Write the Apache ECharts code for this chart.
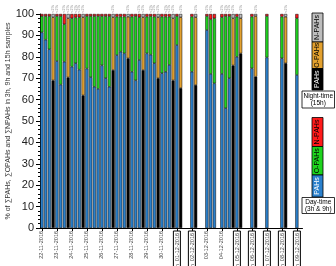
<!DOCTYPE html>
<html>
<head>
<meta charset="utf-8">
<script src="https://cdn.jsdelivr.net/npm/echarts@6/dist/echarts.min.js"></script>
<style>
html,body{margin:0;padding:0;background:#fff;}
#main{width:336px;height:266px;}
</style>
</head>
<body>
<div id="main"></div>
<script>
// sampling days, 4 bar slots per day
var days = ['22-11-2016','23-11-2016','24-11-2016','25-11-2016','26-11-2016','27-11-2016',
	'28-11-2016','29-11-2016','30-11-2016','01-12-2016','02-12-2016','03-12-2016',
	'04-12-2016','05-12-2016','06-12-2016','07-12-2016','08-12-2016','09-12-2016'];
// days with only the 9h sample (boxed label)
var only9h = ['01-12-2016','02-12-2016','05-12-2016','06-12-2016','07-12-2016','08-12-2016','09-12-2016'];
var slotsPerDay = 4;
var yTicks = [0,10,20,30,40,50,60,70,80,90,100];

// day-time (3h & 9h) samples, % per slot
var dayPAH = [
	91.4,88.0,83.5,null, 78.0,67.0,77.7,null, 75.4,77.0,74.0,null, 74.5,70.5,66.0,65.0,
	76.0,70.0,66.0,null, 80.8,82.4,81.6,null, 73.0,69.0,78.5,null, 81.6,81.0,77.0,null,
	72.3,73.0,76.2,null, 85.5,null,null,null, 73.0,null,null,null, 92.5,72.0,67.6,null,
	72.0,56.0,70.0,null, 80.0,null,null,null, 74.6,null,null,null, 79.7,null,null,null,
	79.3,null,null,null, 71.5,null];
var dayOPAH = [
	7.6,11.0,15.5,null, 21.0,32.0,17.5,null, 22.6,21.4,24.5,null, 24.5,28.5,33.0,34.0,
	23.0,29.0,33.0,null, 18.0,16.4,17.2,null, 25.8,30.0,20.0,null, 17.2,18.0,21.8,null,
	26.5,25.8,22.6,null, 13.5,null,null,null, 25.8,null,null,null, 6.5,25.5,30.4,null,
	26.5,43.0,29.0,null, 18.8,null,null,null, 24.2,null,null,null, 19.3,null,null,null,
	19.5,null,null,null, 26.5,null];
var dayNPAH = [
	1.0,1.0,1.0,null, 1.0,1.0,4.8,null, 2.0,1.6,1.5,null, 1.0,1.0,1.0,1.0,
	1.0,1.0,1.0,null, 1.2,1.2,1.2,null, 1.2,1.0,1.5,null, 1.2,1.0,1.2,null,
	1.2,1.2,1.2,null, 1.0,null,null,null, 1.2,null,null,null, 1.0,2.5,2.0,null,
	1.5,1.0,1.0,null, 1.2,null,null,null, 1.2,null,null,null, 1.0,null,null,null,
	1.2,null,null,null, 2.0,null];
// night-time (15h) samples
var nightPAH = [
	null,null,null,69.0, null,null,null,70.4, null,null,null,62.0, null,null,null,null,
	null,null,null,73.8, null,null,null,79.3, null,null,null,73.8, null,null,null,70.0,
	null,null,null,69.0, null,65.4,null,null, null,66.8,null,null, null,null,null,null,
	null,null,null,76.0, null,81.6,null,null, null,70.7,null,null, null,null,null,null,
	null,77.0,null,null, null,null];
var nightOPAH = [
	null,null,null,29.5, null,null,null,27.6, null,null,null,36.5, null,null,null,null,
	null,null,null,24.7, null,null,null,19.4, null,null,null,24.7, null,null,null,28.5,
	null,null,null,29.0, null,33.1,null,null, null,31.7,null,null, null,null,null,null,
	null,null,null,22.0, null,16.4,null,null, null,28.3,null,null, null,null,null,null,
	null,21.7,null,null, null,null];
var nightNPAH = [
	null,null,null,1.5, null,null,null,2.0, null,null,null,1.5, null,null,null,null,
	null,null,null,1.5, null,null,null,1.3, null,null,null,1.5, null,null,null,1.5,
	null,null,null,2.0, null,1.5,null,null, null,1.5,null,null, null,null,null,null,
	null,null,null,2.0, null,2.0,null,null, null,1.0,null,null, null,null,null,null,
	null,1.3,null,null, null,null];
// small notes printed above some bars
var noteSlots = [3,4,6,7,8,9,10,11,19,23,26,27,29,30,31,33,34,35,37,41,44,45,48,49,50,51,53,57,65];
var noteText = '<1%';

var FONT = 'Liberation Sans, Arial, sans-serif';
var C = {
	blue:'#2a80cc', green:'#1ed41e', red:'#ff1a1a',
	black:'#000', orange:'#e3a12f', gray:'#bdbdbd'
};

var slots = [];
for (var i = 0; i < dayPAH.length; i++) {
	slots.push(days[Math.floor(i / slotsPerDay)] + ' #' + (i % slotsPerDay));
}

function note(p) {
	return noteSlots.indexOf(p.dataIndex) >= 0 ? noteText : '';
}
var noteLabel = {
	show: true, position: 'top', rotate: 90, distance: 1,
	align: 'left', verticalAlign: 'middle',
	fontSize: 4, color: '#8a8a8a', fontFamily: FONT, formatter: note
};

function bar(name, data, color, withNote) {
	return {
		name: name, type: 'bar', stack: 'all', data: data,
		barWidth: '84%',
		itemStyle: {color: color, borderColor: '#000', borderWidth: 0.5},
		label: withNote ? noteLabel : {show: false},
		emphasis: {disabled: true}
	};
}

// legend blocks (drawn by hand like the original figure)
function legendBlock(items, x, y0, heights, boxY, boxH, boxText) {
	var g = [];
	var y = y0;
	for (var k = 0; k < items.length; k++) {
		g.push({type: 'rect', shape: {x: x, y: y, width: 11, height: heights[k]},
			style: {fill: items[k][1], stroke: '#000', lineWidth: 0.8}});
		g.push({type: 'text', x: x + 5.5, y: y + heights[k] / 2, rotation: Math.PI / 2,
			style: {text: items[k][0], fill: items[k][2], font: '7px ' + FONT,
				align: 'center', verticalAlign: 'middle', textAlign: 'center', textVerticalAlign: 'middle'}});
		y += heights[k];
	}
	g.push({type: 'rect', shape: {x: 302, y: boxY, width: 32.5, height: boxH},
		style: {fill: '#fff', stroke: '#000', lineWidth: 0.8}});
	g.push({type: 'text', x: 318.25, y: boxY + boxH / 2,
		style: {text: boxText, fill: '#000', font: '6.5px ' + FONT, lineHeight: 7.5,
			align: 'center', verticalAlign: 'middle', textAlign: 'center', textVerticalAlign: 'middle'}});
	return g;
}
var graphics = []
	.concat(legendBlock([['N-PAHs', C.gray, '#000'], ['O-PAHs', C.orange, '#000'], ['PAHs', C.black, '#fff']],
		312, 13, [29, 26.5, 21.5], 91, 17, 'Night-time\n(15h)'))
	.concat(legendBlock([['N-PAHs', C.red, '#000'], ['O-PAHs', C.green, '#000'], ['PAHs', C.blue, '#fff']],
		312, 117.5, [29, 28.5, 22], 197.5, 16, 'Day-time\n(3h & 9h)'));

var myChart = echarts.init(document.getElementById('main'), null, {renderer: 'canvas'});
var option = {
	animation: false,
	textStyle: {fontFamily: FONT},
	grid: {left: 40, top: 14, width: 262.5, height: 214, containLabel: false, outerBoundsMode: 'none'},
	xAxis: {
		type: 'category',
		data: slots,
		axisLine: {lineStyle: {color: '#000', width: 1}},
		axisTick: {show: true, alignWithLabel: true, length: 3, lineStyle: {color: '#000'},
			interval: function (idx) { return idx % slotsPerDay === 0; }},
		axisLabel: {
			interval: function (idx) { return idx % slotsPerDay === 0; },
			rotate: 90, margin: 3, fontSize: 5.5, color: '#444', fontFamily: FONT,
			formatter: function (v, idx) {
				var d = days[Math.floor(idx / slotsPerDay)];
				if (only9h.indexOf(d) >= 0) return '{b|9h  ' + d + '}';
				return d;
			},
			rich: {b: {fontSize: 5.5, color: '#444', borderColor: '#000', borderWidth: 1,
				padding: [1, 2, 0, 2], fontFamily: FONT}}
		},
		splitLine: {show: false}
	},
	yAxis: {
		type: 'value',
		min: yTicks[0], max: yTicks[yTicks.length - 1], interval: yTicks[1] - yTicks[0],
		name: '% of \u2211PAHs, \u2211OPAHs and \u2211NPAHs in 3h, 9h and 15h samples',
		nameLocation: 'middle', nameGap: 28, nameMoveOverlap: false,
		nameTextStyle: {fontSize: 7, color: '#333', fontFamily: FONT},
		axisLine: {show: true, lineStyle: {color: '#000', width: 1}},
		axisTick: {show: true, length: 4, lineStyle: {color: '#000'}},
		minorTick: {show: true, splitNumber: 5, length: 2, lineStyle: {color: '#000'}},
		axisLabel: {fontSize: 11, color: '#222', margin: 6, fontFamily: FONT},
		splitLine: {show: false}
	},
	series: [
		bar('Day PAHs', dayPAH, C.blue, false),
		bar('Day O-PAHs', dayOPAH, C.green, false),
		bar('Day N-PAHs', dayNPAH, C.red, true),
		bar('Night PAHs', nightPAH, C.black, false),
		bar('Night O-PAHs', nightOPAH, C.orange, false),
		bar('Night N-PAHs', nightNPAH, C.gray, true)
	],
	graphic: graphics
};
myChart.setOption(option);
</script>
</body>
</html>
